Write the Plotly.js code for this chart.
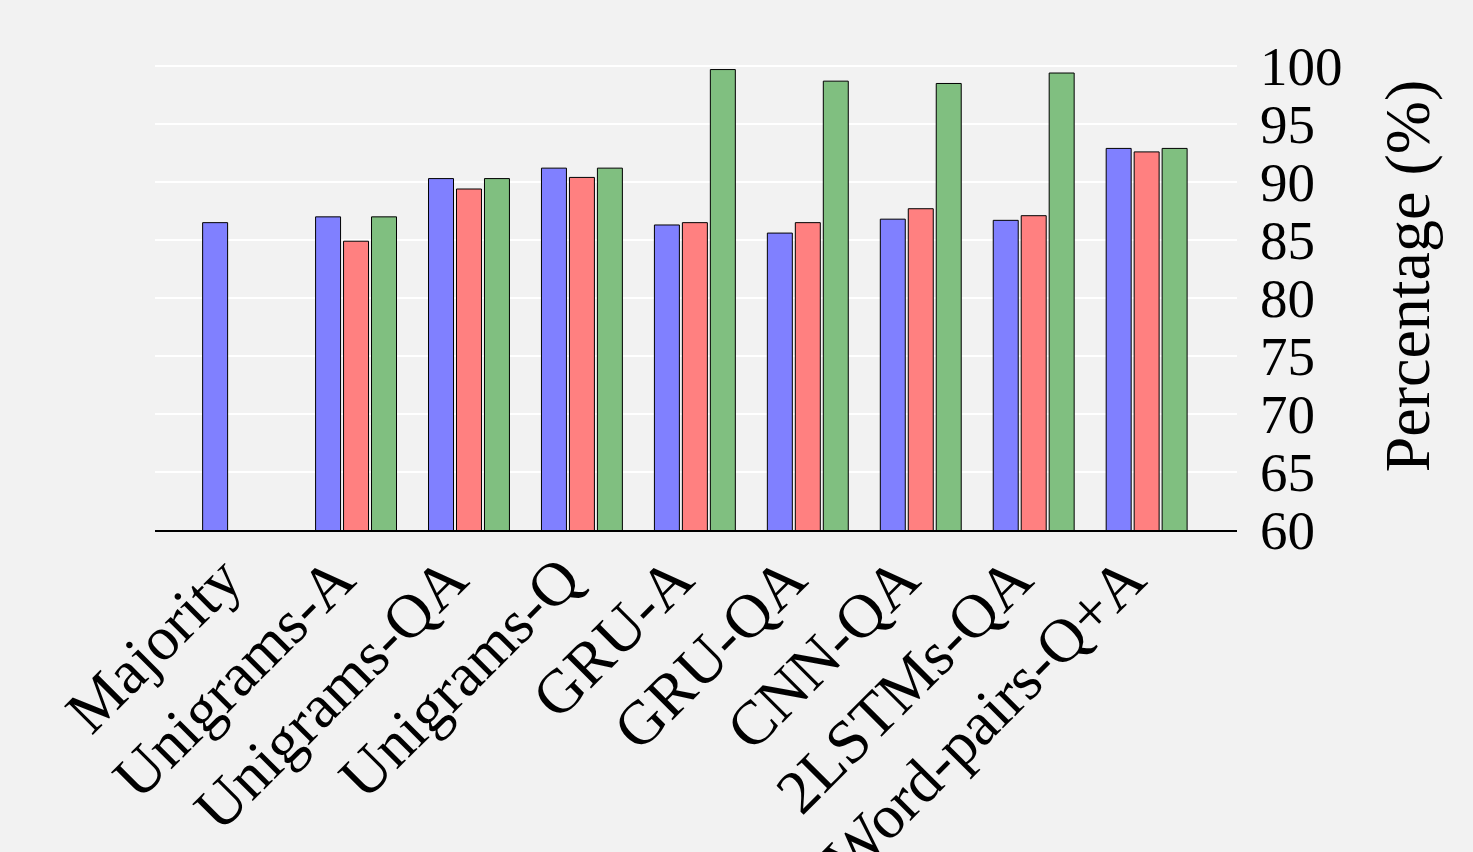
<!DOCTYPE html>
<html>
<head>
<meta charset="utf-8">
<script src="https://cdn.plot.ly/plotly-3.0.1.min.js"></script>
<style>html,body{margin:0;padding:0;background:#f2f2f2;}</style>
</head>
<body>
<div id="chart" style="width:1473px;height:852px;"></div>
<script>
const categories = ["Majority","Unigrams-A","Unigrams-QA","Unigrams-Q","GRU-A","GRU-QA","CNN-QA","2LSTMs-QA","Word-pairs-Q+A"];
const seriesBlue  = [86.5, 87.0, 90.3, 91.2, 86.3, 85.6, 86.8, 86.7, 92.9];
const seriesRed   = [null, 84.9, 89.4, 90.4, 86.5, 86.5, 87.7, 87.1, 92.6];
const seriesGreen = [null, 87.0, 90.3, 91.2, 99.7, 98.7, 98.5, 99.4, 92.9];
const yTicks = [60,65,70,75,80,85,90,95,100];

const line = {color:'#000000', width:1};
const traces = [
  {type:'bar', x:categories, y:seriesBlue, marker:{color:'rgb(128,128,255)', line:line}, name:'A'},
  {type:'bar', x:categories, y:seriesRed, marker:{color:'rgb(255,128,128)', line:line}, name:'B'},
  {type:'bar', x:categories, y:seriesGreen, marker:{color:'rgb(128,191,128)', line:line}, name:'C'}
];
const font = "'Liberation Serif', 'DejaVu Serif', serif";
const layout = {
  width:1473, height:852,
  paper_bgcolor:'#f2f2f2', plot_bgcolor:'#f2f2f2',
  margin:{l:155, r:236, t:22, b:322},
  showlegend:false,
  barmode:'group', bargap:0.257, bargroupgap:0.107,
  font:{family:font, color:'#000'},
  xaxis:{type:'category', range:[-0.78, 8.8], tickangle:-45,
    tickfont:{family:font, size:62, color:'#000'},
    ticklabelstandoff:-14, ticklabelshift:-20,
    showline:true, linecolor:'#000', linewidth:1.5, showgrid:false, ticks:'', zeroline:false},
  yaxis:{side:'right', range:[60, 103.8], tickvals:yTicks, ticktext:yTicks.map(String),
    tickfont:{family:font, size:55, color:'#000'},
    showgrid:true, gridcolor:'#ffffff', gridwidth:1.5, showline:false, zeroline:false,
    ticks:'', ticklabelstandoff:22,
    title:{text:'Percentage (%)', font:{family:font, size:64, color:'#000'}, standoff:42}}
};
Plotly.newPlot('chart', traces, layout, {displayModeBar:false, staticPlot:true});
</script>
</body>
</html>
